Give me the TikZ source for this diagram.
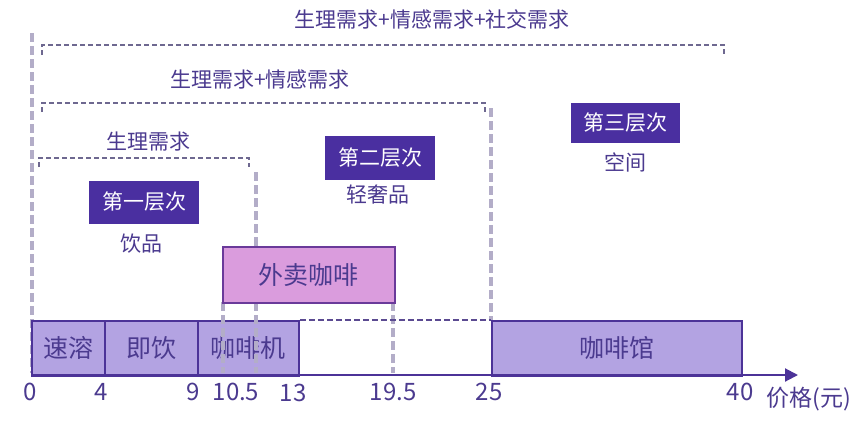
\documentclass[tikz,border=0pt]{standalone}
\usepackage{fontspec}
\setmainfont{Noto Sans CJK SC}
\usetikzlibrary{arrows.meta}
\definecolor{txt}{HTML}{4B3A8F}
\definecolor{deep}{HTML}{4A2FA0}
\definecolor{barfill}{HTML}{B3A3E2}
\definecolor{barline}{HTML}{4C3398}
\definecolor{pinkfill}{HTML}{DA9CDD}
\definecolor{pinkline}{HTML}{6A3A9A}
\definecolor{bracket}{HTML}{6E6890}
\definecolor{vline}{HTML}{B3ADC8}
\tikzset{
  barbox/.style={draw=barline, line width=1.8pt, fill=barfill, text=txt, font=\fontsize{25}{27}\selectfont},
  layerbox/.style={fill=deep, text=white, font=\fontsize{21}{23}\selectfont, inner sep=0pt},
  plain/.style={text=txt, font=\fontsize{21}{23}\selectfont, inner sep=0pt},
  ticklab/.style={text=txt, font=\fontsize{24}{26}\selectfont, inner sep=0pt},
  brk/.style={draw=bracket, dash pattern=on 5pt off 3pt, line width=1.4pt},
  vdash/.style={draw=vline, dash pattern=on 9pt off 4pt, line width=3.2pt},
}
\begin{document}
\begin{tikzpicture}[x=1pt,y=-1pt]
\useasboundingbox (0,0) rectangle (864,429);
% vertical guide lines
\coordinate (v0t) at (32,33); \coordinate (v0b) at (32,373);
\coordinate (v1t) at (256,172); \coordinate (v1b) at (256,373);
\coordinate (v2t) at (491,108); \coordinate (v2b) at (491,320);
\coordinate (v3t) at (223,302); \coordinate (v3b) at (223,373);
\coordinate (v4t) at (393,302); \coordinate (v4b) at (393,373);
\draw[vdash] (v0t) -- (v0b);
\draw[vdash] (v2t) -- (v2b);
% bars
\node[barbox, minimum width=73pt, minimum height=55pt, anchor=north west] (sr) at (31,320) {速溶};
\node[barbox, minimum width=93pt, minimum height=55pt, anchor=north west] (jy) at (104,320) {即饮};
\node[barbox, minimum width=101pt, minimum height=55pt, anchor=north west] (kfj) at (197,320) {咖啡机};
\node[barbox, minimum width=250pt, minimum height=55pt, anchor=north west] (kfg) at (491,320) {咖啡馆};
\draw[vdash] (v1t) -- (v1b);
\draw[vdash] (v3t) -- (v3b);
\draw[vdash] (v4t) -- (v4b);
% takeaway box
\node[draw=pinkline, line width=1.8pt, fill=pinkfill, text=txt, font=\fontsize{25}{27}\selectfont, minimum width=172pt, minimum height=56pt, anchor=north west] (wm) at (222,246) {外卖咖啡};
% dashed link
\draw[draw=barline!70!gray, dash pattern=on 6pt off 3pt, line width=1.4pt] (kfj.north east) -- (kfg.north west);
% axis
\coordinate (ax0) at (31,375);
\coordinate (ax1) at (798,375);
\draw[barline, line width=2pt, -{Triangle[length=13pt,width=13pt]}] (ax0) -- (ax1);
% tick labels
\node[ticklab] (t0) at (30,392) {0};
\node[ticklab] (t4) at (101,392) {4};
\node[ticklab] (t9) at (193,392) {9};
\node[ticklab] (t105) at (236,392) {10.5};
\node[ticklab] (t13) at (293,393) {13};
\node[ticklab] (t195) at (393,392) {19.5};
\node[ticklab] (t25) at (489,392) {25};
\node[ticklab] (t40) at (740,392) {40};
\node[ticklab, font=\fontsize{23}{25}\selectfont] (unit) at (809,399) {价格(元)};
% brackets
\draw[brk] (39,167) -- (39,158) -- (249,158) -- (249,167);
\draw[brk] (42,112) -- (42,103) -- (485,103) -- (485,112);
\draw[brk] (42,55) -- (42,45) -- (724,45) -- (724,54);
\node[plain] (n1) at (148,142) {生理需求};
\node[plain] (n2) at (260,80) {生理需求+情感需求};
\node[plain] (n3) at (432,19) {生理需求+情感需求+社交需求};
% layer boxes
\node[layerbox, minimum width=110pt, minimum height=43pt] (l1) at (144,202) {第一层次};
\node[plain] (l1t) at (141,244) {饮品};
\node[layerbox, minimum width=110pt, minimum height=44pt] (l2) at (380,158) {第二层次};
\node[plain] (l2t) at (378,195) {轻奢品};
\node[layerbox, minimum width=109pt, minimum height=40pt] (l3) at (625,123) {第三层次};
\node[plain] (l3t) at (625,162) {空间};
\end{tikzpicture}
\end{document}
